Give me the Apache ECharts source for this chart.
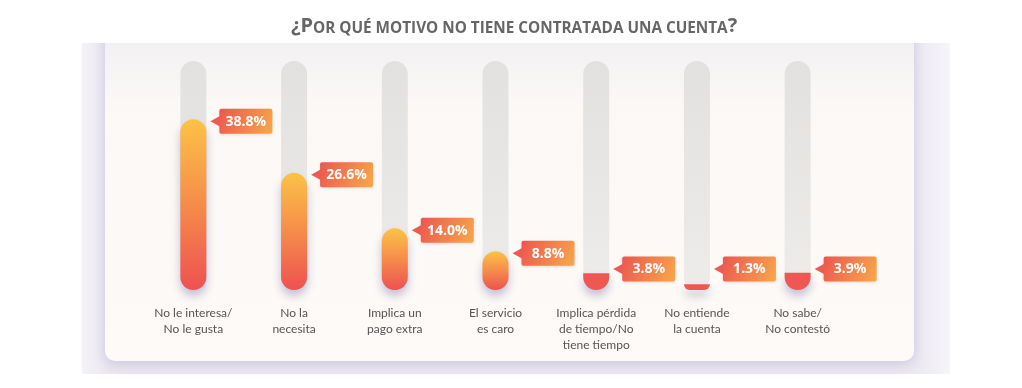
<!DOCTYPE html>
<html>
<head>
<meta charset="utf-8">
<script src="https://cdn.jsdelivr.net/npm/echarts@6/dist/echarts.min.js"></script>
<style>
html,body{margin:0;padding:0;background:#fff;}
#chart{width:1022px;height:388px;}
</style>
</head>
<body>
<div id="chart"></div>
<script>
const categories = [
  'No le interesa/\nNo le gusta',
  'No la\nnecesita',
  'Implica un\npago extra',
  'El servicio\nes caro',
  'Implica pérdida\nde tiempo/No\ntiene tiempo',
  'No entiende\nla cuenta',
  'No sabe/\nNo contestó'
];
const values = [38.8, 26.6, 14.0, 8.8, 3.8, 1.3, 3.9];
const trackMax = 52;

const chart = echarts.init(document.getElementById('chart'), null, {renderer: 'canvas'});

function fillGradient() {
  return new echarts.graphic.LinearGradient(0, 0, 0, 1, [
    {offset: 0, color: '#fcc247'},
    {offset: 0.45, color: '#f6924a'},
    {offset: 1, color: '#ee5151'}
  ]);
}

const barData = values.map(v => ({
  value: v,
  itemStyle: v >= 6 ? {color: fillGradient(), borderRadius: 13}
                    : {color: '#ef5752', borderRadius: [0, 0, 13, 13]}
}));

const labelData = values.map((v, i) => [i, v]);

const option = {
  animation: false,
  title: {
    left: 286,
    top: 5,
    text: '{a|¿P}{b|OR QUÉ MOTIVO NO TIENE CONTRATADA UNA CUENTA}{a|?}',
    textStyle: {
      rich: {
        a: {fontFamily: 'Open Sans', fontWeight: 'bold', fontSize: 20, color: '#666666', lineHeight: 26, verticalAlign: 'bottom'},
        b: {fontFamily: 'Open Sans', fontWeight: 'bold', fontSize: 15.3, color: '#666666', lineHeight: 26, verticalAlign: 'bottom'}
      }
    },
    z: 10
  },
  graphic: [
    {type: 'rect', z: -20, shape: {x: 82, y: 43, width: 868, height: 331},
     style: {fill: new echarts.graphic.LinearGradient(0, 0, 1, 0, [
       {offset: 0, color: '#f4f2f8'}, {offset: 0.03, color: '#ebe8f1'},
       {offset: 0.96, color: '#ece9f2'}, {offset: 1, color: '#f6f5f9'}])}},
    {type: 'rect', z: -19, shape: {x: 105, y: 20, width: 809, height: 341, r: 10},
     style: {fill: new echarts.graphic.LinearGradient(0, 0, 0, 1, [
       {offset: 0, color: '#f1eef3'}, {offset: 0.25, color: '#fbf8f6'}, {offset: 1, color: '#fdfaf7'}]),
       shadowBlur: 14, shadowColor: 'rgba(140,128,185,0.35)', shadowOffsetY: 3}},
    {type: 'rect', z: -18, shape: {x: 0, y: 0, width: 1022, height: 43}, style: {fill: '#ffffff'}}
  ],
  grid: {left: 143, right: 174, top: 61, bottom: 98, containLabel: false},
  xAxis: {
    type: 'category',
    data: categories,
    axisLine: {show: false},
    axisTick: {show: false},
    axisLabel: {
      margin: 15,
      fontFamily: 'Lato',
      fontSize: 12,
      lineHeight: 16,
      color: '#555555',
      interval: 0,
      verticalAlign: 'top'
    }
  },
  yAxis: {
    type: 'value', min: 0, max: trackMax, show: false, splitLine: {show: false}
  },
  series: [
    {
      type: 'bar',
      data: barData,
      barWidth: 26,
      showBackground: true,
      backgroundStyle: {
        color: new echarts.graphic.LinearGradient(0, 0, 0, 1, [
          {offset: 0, color: '#e3e1df'}, {offset: 1, color: '#eeecea'}]),
        borderRadius: 13
      },
      itemStyle: {shadowBlur: 10, shadowColor: 'rgba(110,100,160,0.4)', shadowOffsetY: 6},
      z: 2
    },
    {
      type: 'custom',
      data: labelData,
      encode: {x: 0, y: 1},
      z: 5,
      renderItem: function (params, api) {
        const idx = api.value(0);
        const v = api.value(1);
        const pt = api.coord([idx, v]);
        const base = api.coord([idx, 0]);
        const cx = pt[0];
        const cy = Math.min(pt[1] + 2, base[1] - 21);
        const bx = cx + 26, bw = 53, bh = 25;
        return {
          type: 'group',
          children: [
            {type: 'polygon', shape: {points: [[cx + 17, cy], [bx + 1, cy - 5.5], [bx + 1, cy + 5.5]]},
             style: {fill: '#ee5b51'}},
            {type: 'rect', shape: {x: bx, y: cy - bh / 2, width: bw, height: bh, r: 2},
             style: {fill: new echarts.graphic.LinearGradient(0, 0, 1, 1, [
               {offset: 0, color: '#ec5650'}, {offset: 1, color: '#f8a84a'}]),
               shadowBlur: 3, shadowColor: 'rgba(180,120,100,0.25)', shadowOffsetY: 1}},
            {type: 'text', x: bx + bw / 2, y: cy + 0.5,
             style: {text: v.toFixed(1) + '%', fill: '#ffffff', font: 'bold 14px "Open Sans"',
                     align: 'center', verticalAlign: 'middle'}}
          ]
        };
      }
    }
  ]
};
chart.setOption(option);
</script>
</body>
</html>
